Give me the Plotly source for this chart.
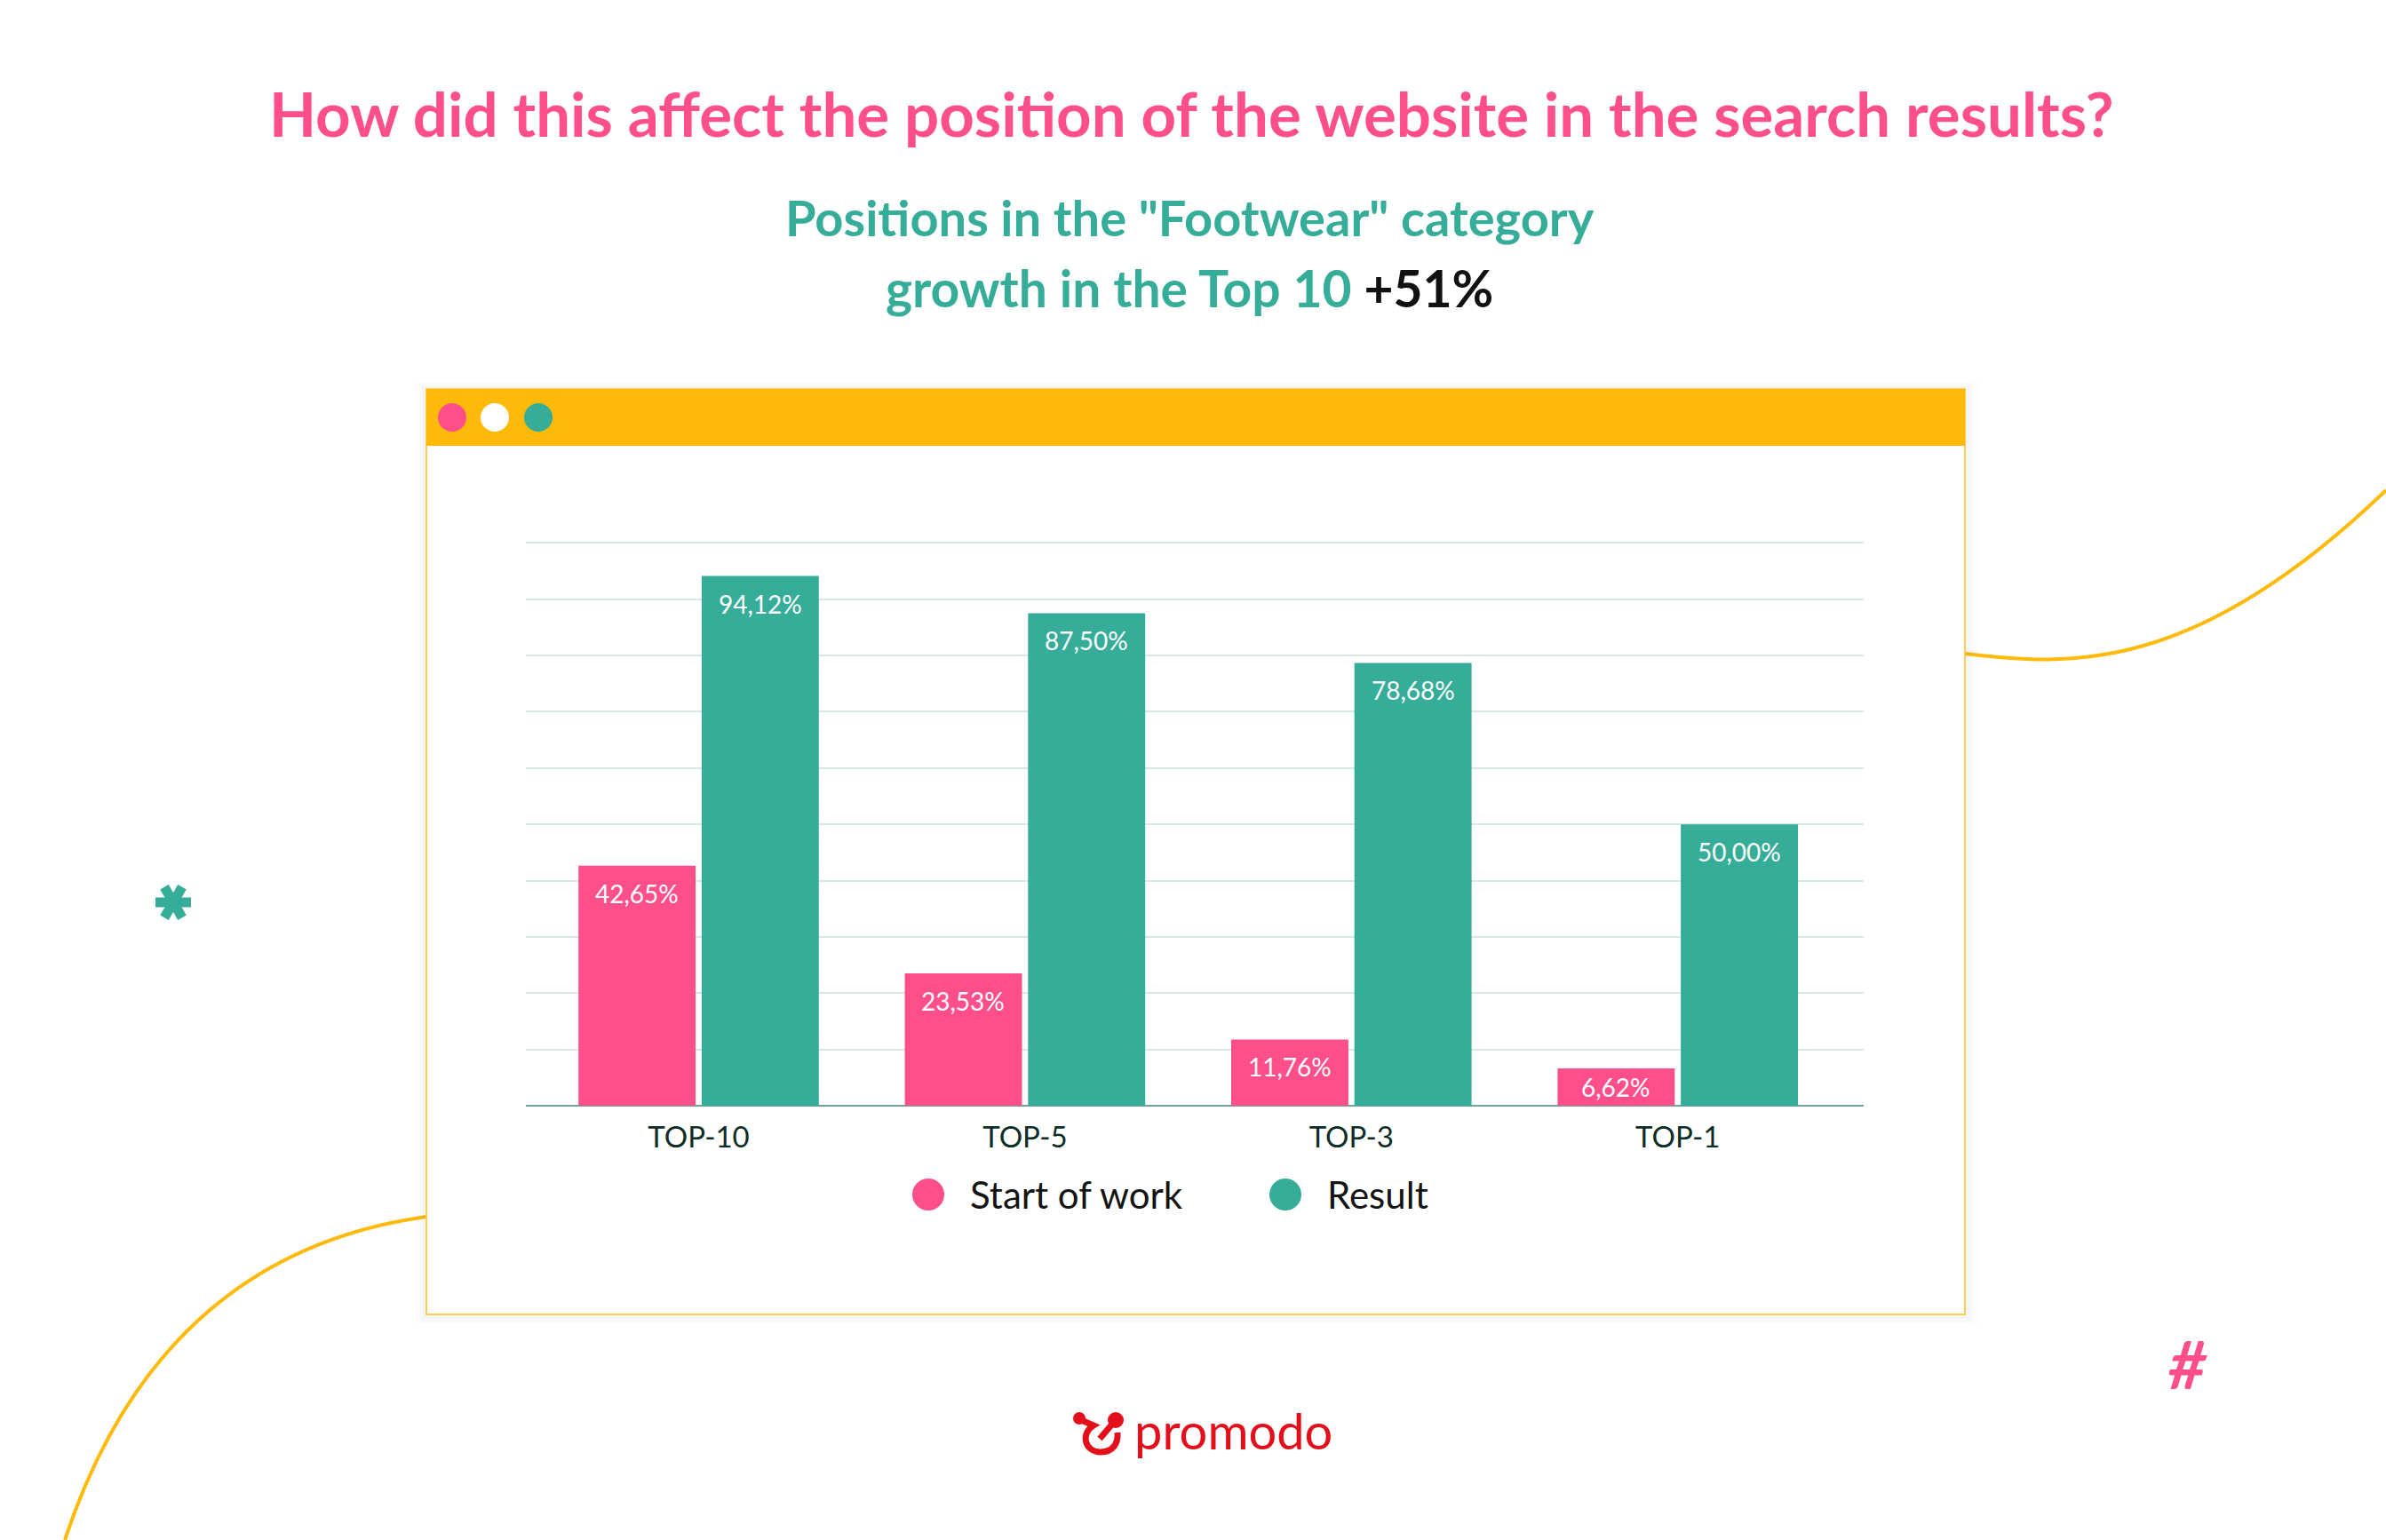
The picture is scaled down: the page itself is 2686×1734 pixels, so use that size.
import math
import plotly.graph_objects as go

W, H = 2686, 1734

# ---------------- data ----------------
categories = ["TOP-10", "TOP-5", "TOP-3", "TOP-1"]
series_names = ["Start of work", "Result"]
start_values = [42.65, 23.53, 11.76, 6.62]
result_values = [94.12, 87.50, 78.68, 50.00]
y_ticks = [0, 10, 20, 30, 40, 50, 60, 70, 80, 90, 100]

title_text = "How did this affect the position of the website in the search results?"
subtitle_line1 = 'Positions in the "Footwear" category'
subtitle_line2 = "growth in the Top 10"
subtitle_growth = "+51%"
brand = "promodo"

# ---------------- style ----------------
PINK = "#FF4F8B"
TEAL = "#36AD98"
YELLOW = "#FFB908"
RED = "#E3101B"
HEAD = "Lato, Open Sans, sans-serif"
BODY = "Lato, Open Sans, sans-serif"


def X(px):
    return px / W


def Y(py):
    return 1 - py / H


def path(points, cmds):
    out = []
    for c, (px, py) in zip(cmds, points):
        out.append(f"{c}{X(px):.5f},{Y(py):.5f}")
    return " ".join(out)


def fmt(v):
    return f"{v:.2f}%".replace(".", ",")


# plot area in pixels
PL, PR, PT, PB = 592, 2098, 610, 1245
cat_step = 367.4
cat0 = 786.5

fig = go.Figure()
fig.add_trace(go.Bar(x=categories, y=start_values, name=series_names[0],
                     marker=dict(color=PINK, line=dict(width=0)), showlegend=False,
                     hoverinfo="skip"))
fig.add_trace(go.Bar(x=categories, y=result_values, name=series_names[1],
                     marker=dict(color=TEAL, line=dict(width=0)), showlegend=False,
                     hoverinfo="skip"))

shapes = []

# decorative curves (behind the window)
shapes.append(dict(type="path", xref="paper", yref="paper", layer="below",
                   path=path([(480, 1370), (300, 1395), (150, 1500), (73, 1734)], ["M", "C", "", ""]),
                   line=dict(color=YELLOW, width=4)))
shapes.append(dict(type="path", xref="paper", yref="paper", layer="below",
                   path=path([(2212, 736), (2330, 750), (2470, 760), (2686, 552)], ["M", "C", "", ""]),
                   line=dict(color=YELLOW, width=4)))

# window shadow
for d, a in [(14, 0.012), (9, 0.018), (5, 0.025)]:
    shapes.append(dict(type="rect", xref="paper", yref="paper", layer="below",
                       x0=X(480 - d), x1=X(2212 + d), y0=Y(1480 + d), y1=Y(438 - d + 2),
                       fillcolor=f"rgba(60,70,110,{a})", line=dict(width=0)))
# window
shapes.append(dict(type="rect", xref="paper", yref="paper", layer="below",
                   x0=X(480), x1=X(2212), y0=Y(1480), y1=Y(438),
                   fillcolor="white", line=dict(color="#FFCC55", width=2)))
shapes.append(dict(type="rect", xref="paper", yref="paper", layer="below",
                   x0=X(480), x1=X(2212), y0=Y(502), y1=Y(438),
                   fillcolor=YELLOW, line=dict(width=0)))
for cx, col in [(509, PINK), (557, "white"), (606, TEAL)]:
    shapes.append(dict(type="circle", xref="paper", yref="paper", layer="below",
                       x0=X(cx - 16), x1=X(cx + 16), y0=Y(470 + 16), y1=Y(470 - 16),
                       fillcolor=col, line=dict(width=0)))

# legend markers
legend_items = [(1045, 1090, PINK), (1447, 1492, TEAL)]
for (cx, tx, col) in legend_items:
    shapes.append(dict(type="circle", xref="paper", yref="paper",
                       x0=X(cx - 18), x1=X(cx + 18), y0=Y(1345 + 18), y1=Y(1345 - 18),
                       fillcolor=col, line=dict(width=0)))

# asterisk decoration (three bars)
ax_c, ay_c, L = 195, 1016, 20
for ang in (0, 60, 120):
    dx = L * math.cos(math.radians(ang))
    dy = L * math.sin(math.radians(ang))
    shapes.append(dict(type="line", xref="paper", yref="paper",
                       x0=X(ax_c - dx), x1=X(ax_c + dx), y0=Y(ay_c - dy), y1=Y(ay_c + dy),
                       line=dict(color=TEAL, width=11)))

# logo icon
shapes.append(dict(type="circle", xref="paper", yref="paper",
                   x0=X(1208), x1=X(1222), y0=Y(1604), y1=Y(1590),
                   fillcolor=RED, line=dict(width=0)))
shapes.append(dict(type="circle", xref="paper", yref="paper",
                   x0=X(1247), x1=X(1265), y0=Y(1608), y1=Y(1590),
                   fillcolor=RED, line=dict(width=0)))
shapes.append(dict(type="path", xref="paper", yref="paper",
                   path=path([(1215, 1598), (1231, 1605), (1216, 1614), (1221, 1635), (1239, 1635),
                              (1253, 1635), (1259, 1625), (1258, 1613)],
                             ["M", "L", "C", "", "", "C", "", ""]),
                   line=dict(color=RED, width=7)))
shapes.append(dict(type="path", xref="paper", yref="paper",
                   path=path([(1255, 1600), (1238, 1620)], ["M", "L"]),
                   line=dict(color=RED, width=7)))

annotations = []
# titles
annotations.append(dict(text=f"<b>{title_text}</b>", x=X(1341), y=Y(128), xref="paper", yref="paper",
                        showarrow=False, xanchor="center", yanchor="middle",
                        font=dict(family=HEAD, size=69, color=PINK)))
annotations.append(dict(text=f"<b>{subtitle_line1}</b>", x=X(1339), y=Y(245), xref="paper", yref="paper",
                        showarrow=False, xanchor="center", yanchor="middle",
                        font=dict(family=HEAD, size=56, color=TEAL)))
annotations.append(dict(text=f"<b>{subtitle_line2} <span style='color:#111111'>{subtitle_growth}</span></b>",
                        x=X(1339), y=Y(324), xref="paper", yref="paper",
                        showarrow=False, xanchor="center", yanchor="middle",
                        font=dict(family=HEAD, size=57, color=TEAL)))

# bar value labels
px_per_unit = (PB - PT) / 100.0
slot = 139
for vals, sgn in [(start_values, -1), (result_values, 1)]:
    for c, v in zip(categories, vals):
        off = min(31, v * px_per_unit / 2)
        annotations.append(dict(text=fmt(v), x=c, y=v, xref="x", yref="y", showarrow=False,
                                xshift=sgn * slot / 2, yshift=-off, xanchor="center", yanchor="middle",
                                font=dict(family=BODY, size=28, color="white")))

# legend texts
for (cx, tx, col), name in zip(legend_items, series_names):
    annotations.append(dict(text=name, x=X(tx), y=Y(1345), xref="paper", yref="paper",
                            showarrow=False, xanchor="left", yanchor="middle",
                            font=dict(family=BODY, size=42, color="#141414")))

# decorations text
annotations.append(dict(text="<b><i>#</i></b>", x=X(2463), y=Y(1535), xref="paper", yref="paper",
                        showarrow=False, xanchor="center", yanchor="middle",
                        font=dict(family=BODY, size=74, color=PINK)))
annotations.append(dict(text=brand, x=X(1388), y=Y(1610), xref="paper", yref="paper",
                        showarrow=False, xanchor="center", yanchor="middle",
                        font=dict(family=BODY, size=56, color=RED)))

fig.update_layout(
    width=W, height=H,
    margin=dict(l=0, r=0, t=0, b=0),
    paper_bgcolor="white", plot_bgcolor="rgba(0,0,0,0)",
    barmode="group", bargap=0.245, bargroupgap=0.049,
    shapes=shapes, annotations=annotations,
    xaxis=dict(domain=[X(PL), X(PR)], range=[(PL - cat0) / cat_step, (PR - cat0) / cat_step],
               showgrid=False, showline=False, ticks="", zeroline=False,
               tickfont=dict(family=BODY, size=33, color="#0E2C28"), ticklabelstandoff=13),
    yaxis=dict(domain=[Y(PB), Y(PT)], range=[0, 100.2], tickvals=y_ticks, showticklabels=False,
               showgrid=True, gridcolor="#D6E8E4", gridwidth=2,
               zeroline=True, zerolinecolor="#6FA39B", zerolinewidth=2, showline=False, ticks=""),
    showlegend=False,
)

fig.write_html("out.html")
